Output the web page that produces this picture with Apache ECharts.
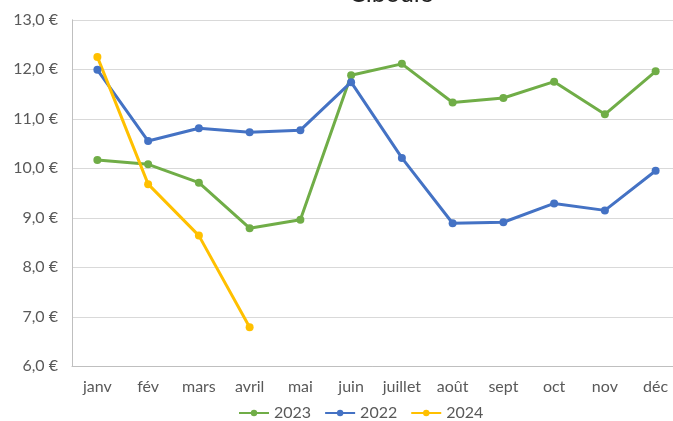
<!DOCTYPE html>
<html><head><meta charset="utf-8">
<script src="https://cdn.jsdelivr.net/npm/echarts@6/dist/echarts.min.js"></script>
<style>html,body{margin:0;padding:0;background:#fff}#c{width:673px;height:421px}</style>
</head><body><div id="c"></div>
<script>
const categories = ['janv','fév','mars','avril','mai','juin','juillet','août','sept','oct','nov','déc'];
const s2023 = [10.17,10.08,9.71,8.79,8.96,11.88,12.11,11.33,11.42,11.75,11.09,11.96];
const s2022 = [11.99,10.55,10.81,10.73,10.77,11.74,10.21,8.89,8.91,9.29,9.15,9.95];
const s2024 = [12.25,9.68,8.64,6.79];
const seriesNames = ['2023','2022','2024'];
const colors = ['#70AD47','#4472C4','#FFC000'];
const font = 'Lato, "Open Sans", sans-serif';

const chart = echarts.init(document.getElementById('c'), null, {renderer:'canvas'});
const mk = (name, data, color) => ({
  name, type:'line', data, symbol:'circle', symbolSize:8,
  lineStyle:{color, width:3}, itemStyle:{color}, color
});
chart.setOption({
  animation:false,
  title:{text:'Ciboule', left:391, textAlign:'center', top:-19, textStyle:{fontFamily:font, fontWeight:'normal', fontSize:25, color:'#222'}, padding:0},
  grid:{left:72, width:609, top:19.8, height:366.3-19.8, containLabel:false, outerBoundsMode:'none'},
  legend:{top:405, left:238, padding:0, itemWidth:30, itemHeight:8, itemGap:13,
    textStyle:{fontFamily:font, fontSize:16, color:'#595959'},
    data:seriesNames},
  xAxis:{type:'category', data:categories, boundaryGap:true,
    axisLine:{lineStyle:{color:'#bfbfbf', width:1}}, axisTick:{show:false},
    axisLabel:{fontFamily:font, fontSize:16, color:'#595959', margin:13}},
  yAxis:{type:'value', min:6, max:13, interval:1,
    axisLine:{show:true, lineStyle:{color:'#bfbfbf'}}, axisTick:{show:false},
    splitLine:{lineStyle:{color:'#d9d9d9'}},
    axisLabel:{fontFamily:font, fontSize:16, color:'#595959', margin:14,
      formatter:v=>v.toFixed(1).replace('.',',')+' €'}},
  series:[mk(seriesNames[0],s2023,colors[0]), mk(seriesNames[1],s2022,colors[1]), mk(seriesNames[2],s2024,colors[2])]
});
</script></body></html>
